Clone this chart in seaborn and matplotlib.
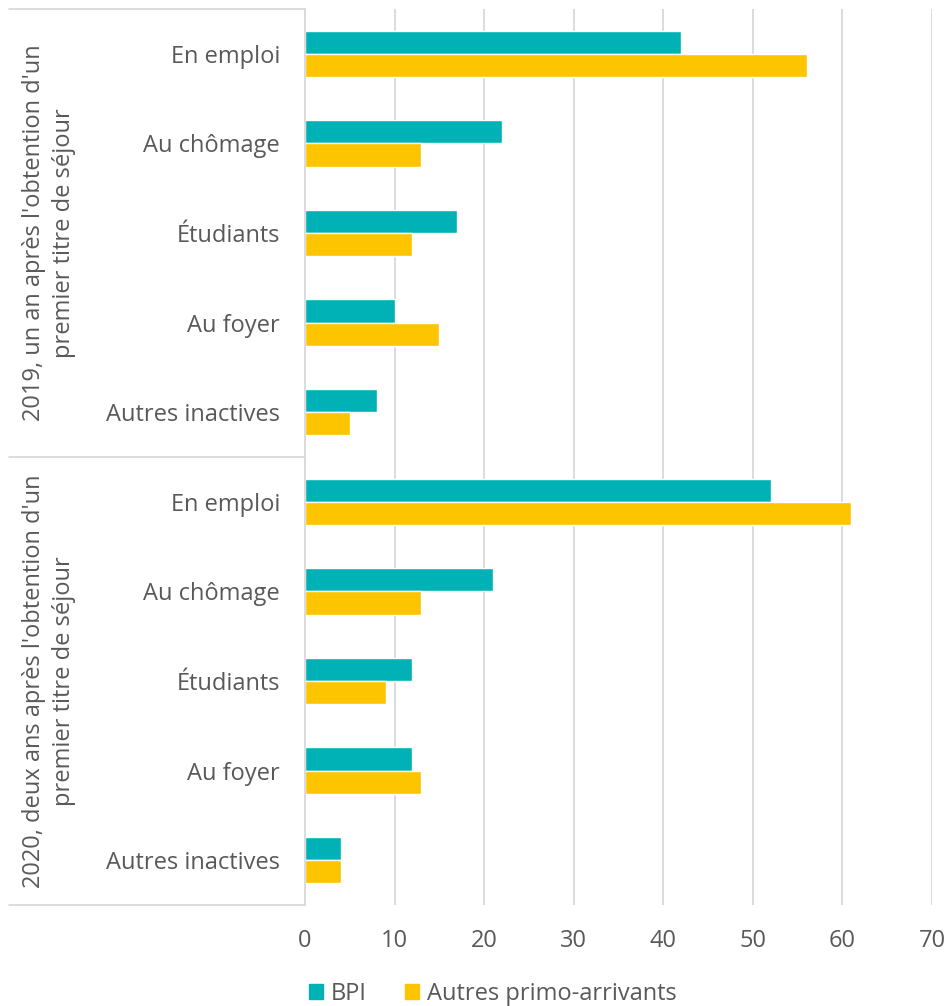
import pandas as pd
import numpy as np
import matplotlib
matplotlib.use('Agg')
import matplotlib.pyplot as plt
from matplotlib.lines import Line2D
import seaborn as sns

# --------------------------------------------------------------
# Data
# --------------------------------------------------------------
groups = ["2019, un an après l'obtention d'un\npremier titre de séjour",
          "2020, deux ans après l'obtention d'un\npremier titre de séjour"]
categories = ['En emploi', 'Au chômage', 'Étudiants', 'Au foyer', 'Autres inactives']
bpi_2019 = [42, 22, 17, 10, 8]
autres_2019 = [56, 13, 12, 15, 5]
bpi_2020 = [52, 21, 12, 12, 4]
autres_2020 = [61, 13, 9, 13, 4]
series = ['BPI', 'Autres primo-arrivants']
colors = ['#00B2B5', '#FDC400']

rows = []
for g, bpi, aut in [(groups[0], bpi_2019, autres_2019), (groups[1], bpi_2020, autres_2020)]:
    for c, b, a in zip(categories, bpi, aut):
        key = g[:4] + '|' + c
        rows.append({'key': key, 'cat': c, 'Série': series[0], 'val': b})
        rows.append({'key': key, 'cat': c, 'Série': series[1], 'val': a})
df = pd.DataFrame(rows)
order = list(dict.fromkeys(df['key']))

# --------------------------------------------------------------
# Plot
# --------------------------------------------------------------
sns.set_style('white')
plt.rcParams['font.family'] = ['Open Sans', 'DejaVu Sans']
txt = '#595959'
fs = 17

fig = plt.figure(figsize=(9.48, 10.06), dpi=100)
ax = fig.add_axes([305/948, 1 - 905/1006, (932 - 305)/948, (905 - 9)/1006])

sns.barplot(data=df, y='key', x='val', hue='Série', order=order,
            hue_order=series, palette=colors, orient='h', width=0.52,
            saturation=1, ax=ax, legend=False)

ax.set_xlim(0, 70)
ax.set_ylim(len(order) - 0.5, -0.5)
ax.set_xticks(range(0, 71, 10))
ax.set_yticks(range(len(order)))
ax.set_yticklabels([k.split('|')[1] for k in order])
ax.set_xlabel('')
ax.set_ylabel('')
ax.tick_params(axis='y', length=0, pad=18, labelsize=fs, labelcolor=txt)
ax.tick_params(axis='x', length=0, pad=17, labelsize=fs, labelcolor=txt)
ax.grid(axis='x', color='#D9D9D9', linewidth=1.3)
ax.set_axisbelow(True)
for s in ['top', 'right', 'bottom']:
    ax.spines[s].set_visible(False)
ax.spines['left'].set_color('#D9D9D9')
ax.spines['left'].set_linewidth(1.3)

# multi-level category box lines
x0 = (9 - 305) / (932 - 305)
for yv in [-0.5, 4.5, 9.5]:
    ax.add_line(Line2D([x0, 0], [yv, yv], transform=ax.get_yaxis_transform(),
                       color='#D9D9D9', linewidth=1.3, clip_on=False))
# group labels
for i, g in enumerate(groups):
    yc = 2 + 5 * i
    ax.text((49 - 305) / (932 - 305), yc, g, transform=ax.get_yaxis_transform(),
            rotation=90, ha='center', va='center', fontsize=fs, color=txt,
            linespacing=1.35, multialignment='center')

handles = [plt.Rectangle((0, 0), 1, 1, color=c) for c in colors]
fig.legend(handles, series, loc='lower center', bbox_to_anchor=(0.52, -0.021),
           ncol=2, frameon=False, fontsize=fs, labelcolor=txt,
           handlelength=0.6, handleheight=0.6, handletextpad=0.35,
           columnspacing=1.6)

plt.savefig('out.png', dpi=100)
